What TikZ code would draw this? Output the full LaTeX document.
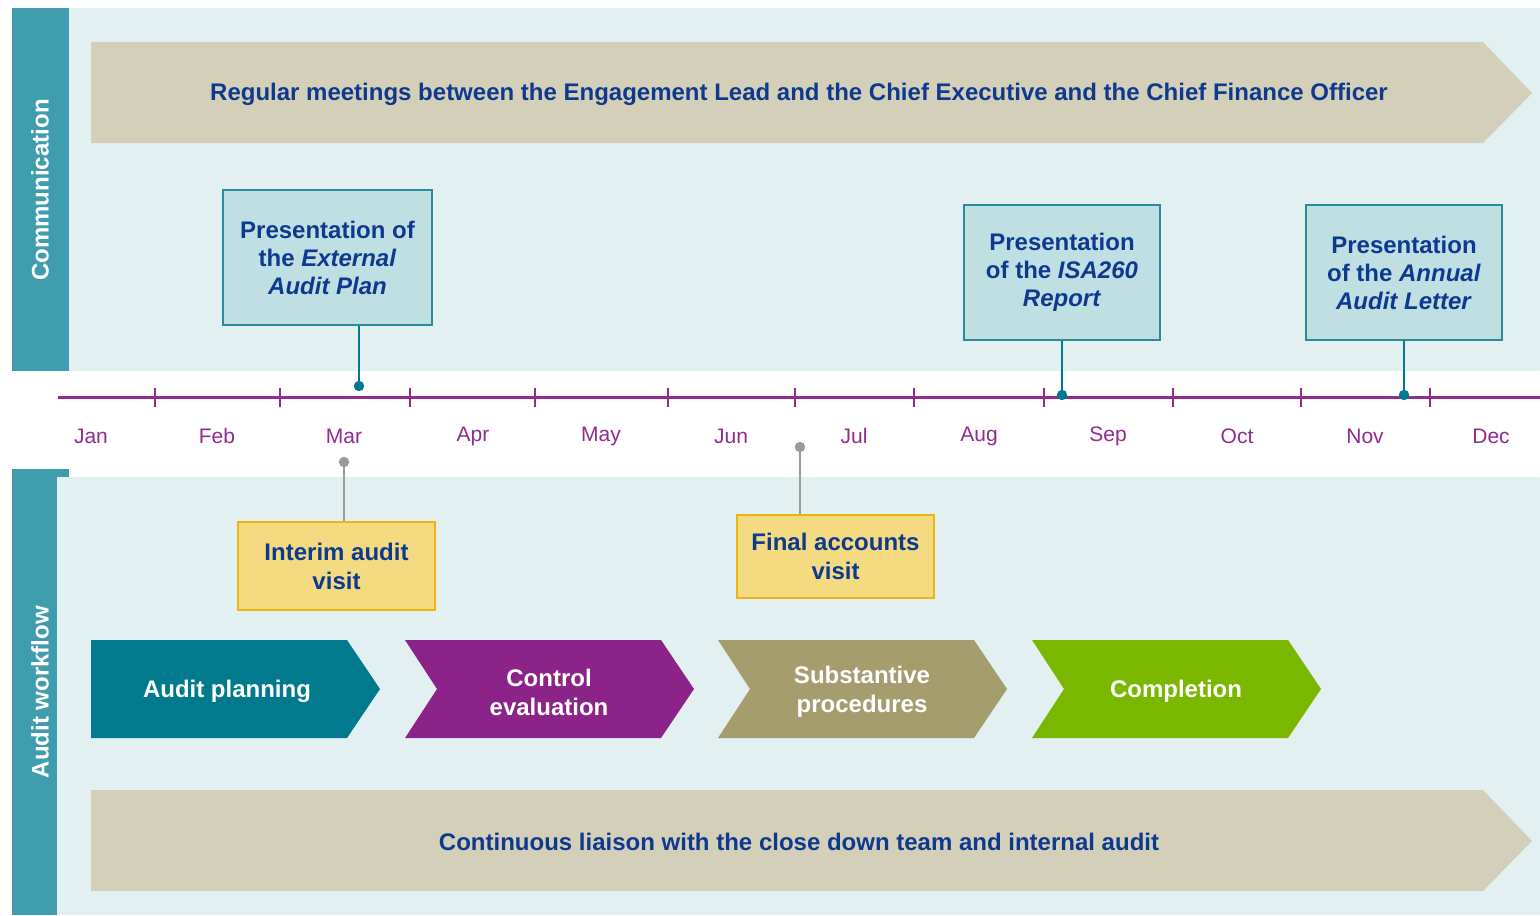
\documentclass[tikz,border=0pt]{standalone}
\usepackage{fontspec}
\setmainfont{Liberation Sans}
\usepackage{tikz}
\usetikzlibrary{calc}

\definecolor{sidebar}{HTML}{409DAD}
\definecolor{panel}{HTML}{E2F0F2}
\definecolor{banner}{HTML}{D4CFB8}
\definecolor{navy}{HTML}{0D3A8E}
\definecolor{boxfill}{HTML}{BFDFE3}
\definecolor{boxedge}{HTML}{2A8C9A}
\definecolor{tline}{HTML}{912B8F}
\definecolor{pinteal}{HTML}{007B8E}
\definecolor{pingrey}{HTML}{9A9A9A}
\definecolor{visitfill}{HTML}{F4DA80}
\definecolor{visitedge}{HTML}{EEB511}
\definecolor{stageA}{HTML}{017A8D}
\definecolor{stageB}{HTML}{8C2388}
\definecolor{stageC}{HTML}{A69D6F}
\definecolor{stageD}{HTML}{7AB800}

\def\stage[#1](#2){\fill[#1] ($(#2)+(0,-49)$) -- ++(256,0) -- ++(33,49) -- ++(-33,49) -- ++(-256,0) -- ++(32,-49) -- cycle;}

\tikzset{
	presbox/.style={draw=boxedge, fill=boxfill, line width=1pt, align=center, text=navy,
		font=\fontsize{12}{14}\selectfont\bfseries, inner sep=0pt},
	visitbox/.style={draw=visitedge, fill=visitfill, line width=0.8pt, align=center, text=navy,
		font=\fontsize{12}{14.5}\selectfont\bfseries, inner sep=0pt, minimum width=98.5pt},
	stagetext/.style={text=white, align=center, font=\fontsize{12}{14.5}\selectfont\bfseries},
	bannertext/.style={text=navy, font=\fontsize{12}{14}\selectfont\bfseries},
	month/.style={text=tline, font=\fontsize{10.5}{12}\selectfont},
	sidetext/.style={text=white, rotate=90, font=\fontsize{12}{14}\selectfont\bfseries},
	tealpin/.style={draw=pinteal, line width=1.3pt},
	greypin/.style={draw=pingrey, line width=1.3pt}
}

\begin{document}
\begin{tikzpicture}[x=0.5pt, y=-0.5pt]
	%%%%% START %%%%%
	
	\fill[white] (0,0) rectangle (1540,915);
	\useasboundingbox (0,0) rectangle (1540,915);
	
	% panels
	\fill[panel] (69,8) rectangle (1540,371);
	\fill[sidebar] (12,8) rectangle (69,371);
	\node[sidetext] (commLabel) at (40,190) {Communication};
	
	\fill[panel] (57,477) rectangle (1540,915);
	\fill[sidebar] (12,469) rectangle (69,477);
	\fill[sidebar] (12,477) rectangle (57,915);
	\node[sidetext] (flowLabel) at (40,692) {Audit workflow};
	
	% banners
	\fill[banner] (91,42) -- (1483,42) -- (1532,93) -- (1483,143) -- (91,143) -- cycle;
	\node[bannertext] (meetBanner) at (799,94) {Regular meetings between the Engagement Lead and the Chief Executive and the Chief Finance Officer};
	
	\fill[banner] (91,790) -- (1483,790) -- (1532,841) -- (1483,891) -- (91,891) -- cycle;
	\node[bannertext] (liaisonBanner) at (799,842) {Continuous liaison with the close down team and internal audit};
	
	% timeline
	\draw[tline, line width=1.5pt] (58,397.5) -- (1540,397.5);
	\foreach \tx in {155,280,410,535,668,795,914,1044,1173,1301,1430}
		\draw[tline, line width=1.4pt] (\tx,388) -- (\tx,407);
	\foreach \mx/\mname in {91/Jan,217/Feb,344/Mar,473/Apr,601/May,731/Jun,854/Jul,979/Aug,1108/Sep,1237/Oct,1365/Nov,1491/Dec}
		\node[month] (m\mname) at (\mx,436) {\mname};
	
	% presentations
	\node[presbox, minimum width=104.5pt, minimum height=67.5pt] (planBox) at (327.5,257.5)
		{Presentation of\\the \textit{External}\\\textit{Audit Plan}};
	\node[presbox, minimum width=98pt, minimum height=67.5pt] (isaBox) at (1062,272.5)
		{Presentation\\of the \textit{ISA260}\\\textit{Report}};
	\node[presbox, minimum width=98pt, minimum height=67.5pt] (letterBox) at (1404,272.5)
		{Presentation\\of the \textit{Annual}\\\textit{Audit Letter}};
	
	\coordinate (planDot) at (359,386);
	\coordinate (isaDot) at (1062,395);
	\coordinate (letterDot) at (1404,395);
	\draw[tealpin] (planBox.south -| planDot) -- (planDot);
	\draw[tealpin] (isaBox.south) -- (isaDot);
	\draw[tealpin] (letterBox.south) -- (letterDot);
	\foreach \d in {planDot,isaDot,letterDot}
		\fill[pinteal] (\d) circle (2.6pt);
	
	% visits
	\node[visitbox, minimum height=44pt] (interimBox) at (336.5,566) {Interim audit\\visit};
	\node[visitbox, minimum height=41.5pt] (finalBox) at (835.5,556.5) {Final accounts\\visit};
	
	\coordinate (interimDot) at (344,462);
	\coordinate (finalDot) at (800,447);
	\draw[greypin] (interimBox.north -| interimDot) -- (interimDot);
	\draw[greypin] (finalBox.north -| finalDot) -- (finalDot);
	\fill[pingrey] (interimDot) circle (2.6pt);
	\fill[pingrey] (finalDot) circle (2.6pt);
	
	% workflow stages
	\fill[stageA] (91,640) -- (347,640) -- (380,689) -- (347,738) -- (91,738) -- cycle;
	\node[stagetext] (planStage) at (227,691) {Audit planning};
	\stage[stageB](405,689)
	\node[stagetext] (controlStage) at (549,692) {Control\\evaluation};
	\stage[stageC](718,689)
	\node[stagetext] (subStage) at (862,692) {Substantive\\procedures};
	\stage[stageD](1032,689)
	\node[stagetext] (doneStage) at (1176,691) {Completion};
	
	%%%%% END %%%%%
\end{tikzpicture}
\end{document}
